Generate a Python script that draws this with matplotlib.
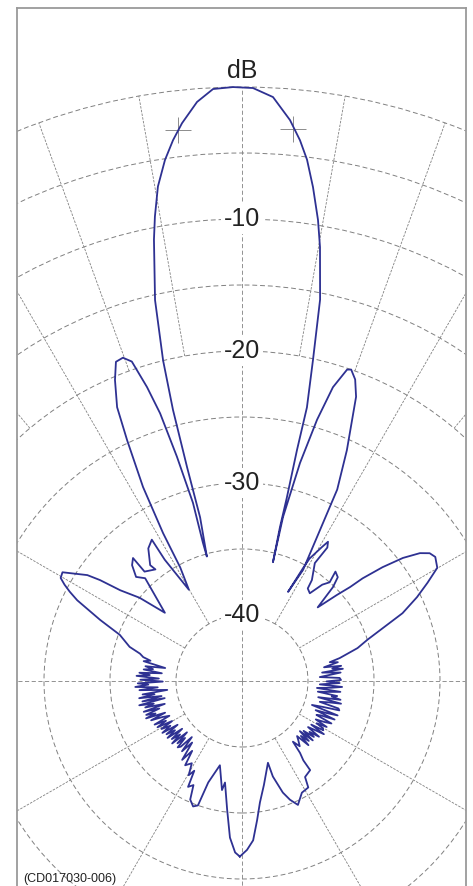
import numpy as np
import matplotlib
matplotlib.use("Agg")
import matplotlib.pyplot as plt
from matplotlib.patches import Circle

plt.rcParams['font.family'] = ['Liberation Sans', 'DejaVu Sans']

# measured antenna pattern, traced round from the back lobe.
# angle in degrees (0 = boresight, clockwise positive), level in dB
back_left_ang = [-179.3, -177.7, -175.6, -173.4, -170.5, -169.6, -165.3, -161.6,
                 -160.5, -158.7, -156.4, -155.0, -153.0, -152.0, -150.5, -148.6,
                 -146.0, -144.5, -142.8, -141.0, -139.5]
back_left_db = [-31.7, -32.0, -33.1, -35.2, -37.2, -36.6, -38.4, -36.9,
                -35.0, -34.8, -35.2, -36.3, -36.0, -37.3, -36.8, -37.7,
                -37.3, -38.5, -37.5, -39.0, -38.0]

noise_left_ang = [-138.2, -137.0, -135.9, -135.0, -134.0, -133.0, -131.8, -130.8,
                  -129.6, -128.6, -127.4, -126.3, -125.2, -124.2, -123.1, -122.0,
                  -120.8, -119.8, -118.7, -117.6, -116.5, -115.6, -114.4, -113.4,
                  -112.4, -111.3, -110.6, -109.5, -108.4, -107.4, -106.5, -105.3,
                  -104.4, -103.3, -102.5, -101.6, -100.6, -99.5, -98.6, -97.7,
                  -96.8, -95.1, -94.3, -93.2, -92.2, -91.3, -90.4, -89.3,
                  -88.3, -87.2, -86.3, -85.4, -84.5, -83.3, -82.4, -81.3,
                  -80.4, -78.6, -77.5, -76.4, -75.0]
noise_left_db = [-39.3, -38.2, -38.0, -38.9, -38.2, -39.3, -37.9, -38.8,
                 -38.1, -39.2, -37.9, -38.7, -38.0, -39.1, -37.8, -38.6,
                 -37.9, -38.9, -37.7, -38.5, -37.6, -38.9, -38.4, -37.5,
                 -38.7, -37.2, -38.0, -37.3, -38.4, -37.2, -38.9, -37.4,
                 -38.1, -37.0, -39.0, -37.3, -38.8, -37.1, -38.3, -37.4,
                 -39.3, -37.2, -38.6, -36.9, -37.9, -37.1, -39.0, -37.3,
                 -38.7, -37.0, -38.0, -37.2, -38.9, -37.5, -38.2, -37.6,
                 -39.1, -37.4, -37.9, -37.3, -37.0]

far_left_ang = [-73.1, -69.3, -66.7, -63.9, -62.6, -61.5, -60.4, -58.8,
                -55.6, -54.6, -53.3, -50.9, -48.5]
far_left_db = [-36.1, -35.1, -33.3, -31.1, -30.3, -29.7, -29.2, -29.1,
               -30.8, -31.8, -33.5, -35.0, -37.2]

spiky_left_ang = [-43.3, -45.5, -43.5, -41.55, -41.7, -37.8, -38.4, -35.25,
                  -32.55, -32.5, -30.2]
spiky_left_db = [-34.3, -33.75, -32.9, -32.55, -33.9, -34.3, -33.8, -32.7,
                 -32.3, -34.1, -37.0]

side_left_ang = [-28.54, -28.09, -27.03, -25.51, -24.52, -22.88, -21.55, -20.22,
                 -19.03, -17.91, -17.01, -16.18, -15.39, -15.78, -15.76]
side_left_db = [-35.2, -32.3, -28.5, -24.8, -22.2, -20.25, -19.0, -18.9,
                -19.4, -21.6, -23.8, -27.3, -31.0, -34.1, -35.2]

main_ang = [-14.36, -14.41, -14.28, -13.83, -12.86, -11.28, -10.62, -9.65,
            -8.41, -7.27, -6.14, -4.44, -2.80, -0.87, 1.06, 3.04,
            4.89, 6.12, 7.11, 8.18, 9.36, 10.19, 11.57, 12.47,
            13.35, 13.39, 13.74, 13.86, 14.60]
main_db = [-32.2, -28.3, -23.8, -20.0, -15.4, -10.9, -9.2, -7.0,
           -5.1, -3.7, -2.5, -1.0, -0.1, 0.0, -0.07, -0.7,
           -2.35, -3.8, -5.2, -7.2, -9.6, -11.6, -15.5, -20.1,
           -23.7, -27.0, -30.7, -33.0, -35.7]

side_right_ang = [14.04, 14.90, 16.03, 17.20, 18.65, 19.32, 20.57, 21.87,
                  24.44, 26.44, 27.32, 28.79, 27.33]
side_right_db = [-32.2, -27.9, -24.4, -21.7, -20.1, -20.0, -20.6, -21.8,
                 -25.8, -28.8, -32.1, -35.4, -37.4]

spiky_right_ang = [28.4, 28.9, 30.8, 31.7, 32.6, 31.7, 34.7, 35.4,
                   37.7, 39.8, 41.6, 40.5, 42.7, 44.1, 45.8]
spiky_right_db = [-35.3, -34.4, -33.2, -32.6, -33.0, -34.5, -35.7, -36.4,
                  -36.6, -35.5, -35.0, -34.1, -34.3, -35.1, -37.0]

far_right_ang = [47.8, 49.0, 49.6, 51.0, 52.6, 54.3, 55.75, 57.3,
                 59.9, 62.1, 64.4, 67.1, 69.4, 71.8, 74.1]
far_right_db = [-35.3, -34.15, -33.0, -31.3, -29.65, -28.4, -27.8, -27.6,
                -27.9, -29.1, -30.3, -31.8, -33.6, -35.0, -35.9]

noise_right_ang = [76.8, 77.9, 78.9, 80.5, 81.3, 82.2, 83.1, 84.0,
                   85.1, 86.0, 87.1, 88.2, 89.4, 90.3, 91.2, 92.5,
                   93.4, 94.3, 95.3, 96.3, 97.2, 98.0, 99.0, 99.8,
                   100.8, 102.0, 102.9, 103.9, 105.0, 105.9, 106.8, 107.8,
                   108.9, 109.8, 110.8, 111.6, 112.6, 113.6, 114.5, 115.4,
                   116.4, 117.5, 118.5, 119.5, 120.3, 121.2, 122.2, 123.0,
                   124.0, 124.9, 125.9, 127.0, 127.9, 129.0, 130.0, 130.9,
                   131.9, 133.0, 134.0, 135.0, 136.5]
noise_right_db = [-37.4, -38.2, -37.6, -38.7, -37.4, -38.1, -37.3, -38.9,
                  -37.5, -38.3, -39.1, -37.6, -37.5, -38.6, -37.6, -39.1,
                  -37.4, -38.2, -39.3, -37.5, -38.4, -39.2, -37.7, -38.1,
                  -37.4, -39.1, -37.3, -38.3, -38.9, -37.4, -37.3, -38.6,
                  -39.4, -37.3, -38.2, -39.0, -37.4, -38.5, -38.8, -37.5,
                  -38.0, -38.7, -37.7, -38.5, -37.9, -37.8, -38.8, -37.6,
                  -38.4, -38.9, -37.8, -38.6, -38.1, -39.0, -38.0, -39.2,
                  -38.2, -38.9, -38.0, -39.1, -38.8]

back_right_ang = [138.5, 140.0, 141.1, 142.3, 142.6, 146.7, 148.1, 151.8,
                  155.7, 158.0, 159.9, 162.1, 162.4, 168.1, 171.6, 173.8,
                  176.0, 178.3, 180.7]
back_right_db = [-38.4, -39.0, -38.0, -37.4, -36.5, -36.3, -35.5, -35.4,
                 -34.7, -35.3, -36.0, -37.4, -38.5, -36.95, -35.7, -34.4,
                 -32.9, -32.2, -31.7]

# -3 dB beamwidth markers
marker_angle = [-6.6, 5.3]
marker_db = [-3, -3]

ring_db = [-40, -35, -30, -25, -20, -15, -10, -5, 0]
label_db = [-10, -20, -30, -40]
label_text = ["-10", "-20", "-30", "-40"]
floor_db = -45        # level at the centre of the plot
spoke_start_db = -20  # minor spokes start at this ring

grid_col = "#808080"
line_col = "#2e3192"

angle_deg = (back_left_ang + noise_left_ang + far_left_ang + spiky_left_ang
             + side_left_ang + main_ang + side_right_ang + spiky_right_ang
             + far_right_ang + noise_right_ang + back_right_ang)
level_db = (back_left_db + noise_left_db + far_left_db + spiky_left_db
            + side_left_db + main_db + side_right_db + spiky_right_db
            + far_right_db + noise_right_db + back_right_db)


def to_xy(ang, db):
    r = np.asarray(db, dtype=float) - floor_db
    t = np.radians(np.asarray(ang, dtype=float))
    return r * np.sin(t), r * np.cos(t)


fig = plt.figure(figsize=(4.73, 8.86), dpi=100)
ax = fig.add_axes([17 / 473, 0, 449 / 473, 878 / 886])
px = 13.2  # pixels per dB
ax.set_xlim(-225 / px, 224 / px)
ax.set_ylim(-205 / px, 673 / px)
ax.set_xticks([])
ax.set_yticks([])
for side in ["left", "right", "top"]:
    ax.spines[side].set_color("#9a9a9a")
    ax.spines[side].set_linewidth(1.3)
ax.spines["bottom"].set_visible(False)

r_out = 0 - floor_db
for db in ring_db:
    ax.add_patch(Circle((0, 0), db - floor_db, fill=False, ec=grid_col,
                        lw=0.7, ls=(0, (5, 3)), zorder=1))

for a in range(0, 360, 10):
    if a % 90 == 0:
        r0, ls = 0, (0, (5, 3))
    elif a % 30 == 0:
        r0, ls = -40 - floor_db, (0, (3, 1.5))
    else:
        r0, ls = spoke_start_db - floor_db, (0, (3, 1.5))
    t = np.radians(a)
    ax.plot([r0 * np.sin(t), r_out * np.sin(t)],
            [r0 * np.cos(t), r_out * np.cos(t)],
            color=grid_col, lw=0.6, ls=ls, zorder=1)

mx, my = to_xy(marker_angle, marker_db)
ax.plot(mx, my, "+", color="#8c8c8c", markersize=19, mew=0.7, zorder=2)

for db, txt in zip(label_db, label_text):
    ax.text(0, db - floor_db, txt, ha="center", va="center", fontsize=18,
            color="#222222", zorder=3,
            bbox=dict(facecolor="white", edgecolor="none", pad=2))
ax.text(0, r_out + 1.2, "dB", ha="center", va="center", fontsize=18,
        color="#222222", zorder=3)

x, y = to_xy(angle_deg, level_db)
ax.plot(x, y, color=line_col, lw=1.3, zorder=4)

ax.text(-16.6, -15.0, "(CD017030-006)", ha="left", va="center",
        fontsize=9, color="#222222", zorder=3)

fig.savefig("out.png", dpi=100)
